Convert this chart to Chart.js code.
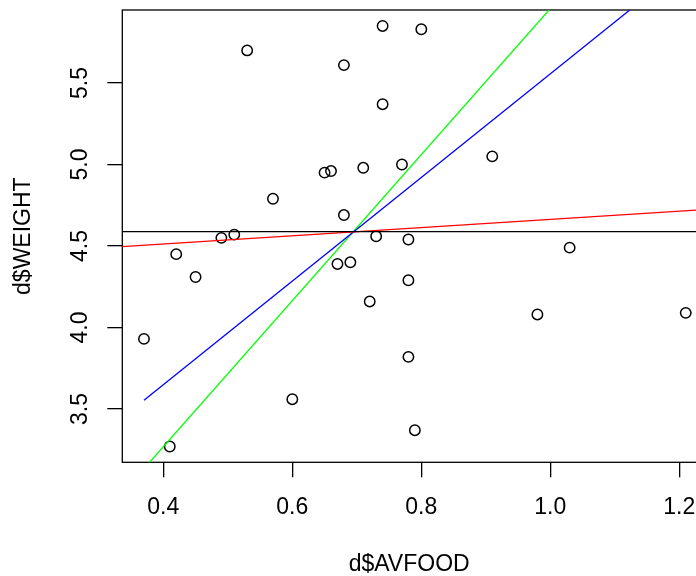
<!DOCTYPE html>
<html><head><meta charset="utf-8">
<script src="https://cdn.jsdelivr.net/npm/chart.js@4"></script>
<style>html,body{margin:0;padding:0;background:#fff;overflow:hidden}#wrap{width:696px;height:576px;position:relative}</style>
</head><body><div id="wrap"><canvas id="c" width="696" height="576"></canvas></div>
<script>
// scatter data: d$AVFOOD vs d$WEIGHT
const avfood = [0.53,0.74,0.68,0.74,0.65,0.66,0.71,0.77,0.57,0.68,0.49,0.51,0.73,0.80,0.91,0.78,1.03,0.42,0.45,0.37,0.67,0.69,0.72,0.60,0.41,0.78,0.98,1.21,0.78,0.79];
const weight = [5.70,5.85,5.61,5.37,4.95,4.96,4.98,5.00,4.79,4.69,4.55,4.57,4.56,5.83,5.05,4.54,4.49,4.45,4.31,3.93,4.39,4.40,4.16,3.56,3.27,4.29,4.08,4.09,3.82,3.37];
// fitted lines (endpoints)
const meanLineX = [0.33, 1.25], meanLineY = [4.588, 4.588];
const redLineX = [0.33, 1.25], redLineY = [4.495, 4.726];
const blueLineX = [0.37, 1.21], blueLineY = [3.553, 6.224];
const greenLineX = [0.33, 1.25], greenLineY = [2.955, 7.077];
// axes
const xTicks = [0.4, 0.6, 0.8, 1.0, 1.2];
const yTicks = [3.5, 4.0, 4.5, 5.0, 5.5];
const xRange = [0.3364, 1.2259];
const yRange = [3.173, 5.948];
const xTitle = 'd$AVFOOD', yTitle = 'd$WEIGHT';

const FAM = "'Liberation Sans', Arial, sans-serif";
const pts = (xs, ys) => xs.map((x, i) => ({x: x, y: ys[i]}));

const boxPlugin = {
  id: 'box',
  beforeDatasetsDraw(chart) {
    const {ctx, chartArea: a} = chart;
    ctx.save();
    ctx.strokeStyle = '#000';
    ctx.lineWidth = 1.3;
    ctx.strokeRect(a.left, a.top, a.right - a.left + 20, a.bottom - a.top);
    ctx.restore();
  }
};

const lineDs = (xs, ys, color) => ({
  data: pts(xs, ys), showLine: true, borderColor: color, borderWidth: 1.3,
  pointRadius: 0, fill: false, tension: 0, clip: 0, order: 1
});

new Chart(document.getElementById('c'), {
  type: 'scatter',
  data: {
    datasets: [
      lineDs(meanLineX, meanLineY, '#000000'),
      lineDs(redLineX, redLineY, '#FF0000'),
      lineDs(blueLineX, blueLineY, '#0000FF'),
      lineDs(greenLineX, greenLineY, '#00FF00'),
      {
        data: pts(avfood, weight), showLine: false, pointStyle: 'circle',
        pointRadius: 5.2, pointBorderWidth: 1.5, pointBorderColor: '#000',
        pointBackgroundColor: 'rgba(0,0,0,0)', order: 5
      }
    ]
  },
  options: {
    responsive: false, animation: false, events: [],
    layout: {autoPadding: false, padding: {top: 10, left: 0, right: 0, bottom: 0}},
    plugins: {legend: {display: false}, tooltip: {enabled: false}},
    scales: {
      x: {
        type: 'linear', position: 'bottom', min: xRange[0], max: xRange[1],
        afterBuildTicks: s => { s.ticks = xTicks.map(v => ({value: v})); },
        afterFit: s => { s.height = 113.7; s.paddingLeft = 0; s.paddingRight = 0; },
        grid: {display: true, drawOnChartArea: false, drawTicks: true, tickLength: 15, color: '#000', lineWidth: 1.3},
        border: {display: false},
        ticks: {color: '#000', font: {family: FAM, size: 23, lineHeight: 1}, padding: 19,
                minRotation: 0, maxRotation: 0, autoSkip: false, callback: v => Number(v).toFixed(1)},
        title: {display: true, text: xTitle, color: '#000', font: {family: FAM, size: 23, lineHeight: 1},
                padding: {top: 0, bottom: 0}}
      },
      y: {
        type: 'linear', position: 'left', min: yRange[0], max: yRange[1],
        afterBuildTicks: s => { s.ticks = yTicks.map(v => ({value: v})); },
        afterFit: s => { s.width = 122.3; s.paddingTop = 0; s.paddingBottom = 0; },
        grid: {display: true, drawOnChartArea: false, drawTicks: true, tickLength: 15, color: '#000', lineWidth: 1.3},
        border: {display: false},
        ticks: {color: '#000', font: {family: FAM, size: 23, lineHeight: 1}, padding: 11,
                minRotation: 90, maxRotation: 90, crossAlign: 'center', autoSkip: false,
                callback: v => Number(v).toFixed(1)},
        title: {display: true, text: yTitle, color: '#000', font: {family: FAM, size: 23, lineHeight: 1},
                padding: {top: 12.5, bottom: 0}}
      }
    }
  },
  plugins: [boxPlugin]
});
</script></body></html>
